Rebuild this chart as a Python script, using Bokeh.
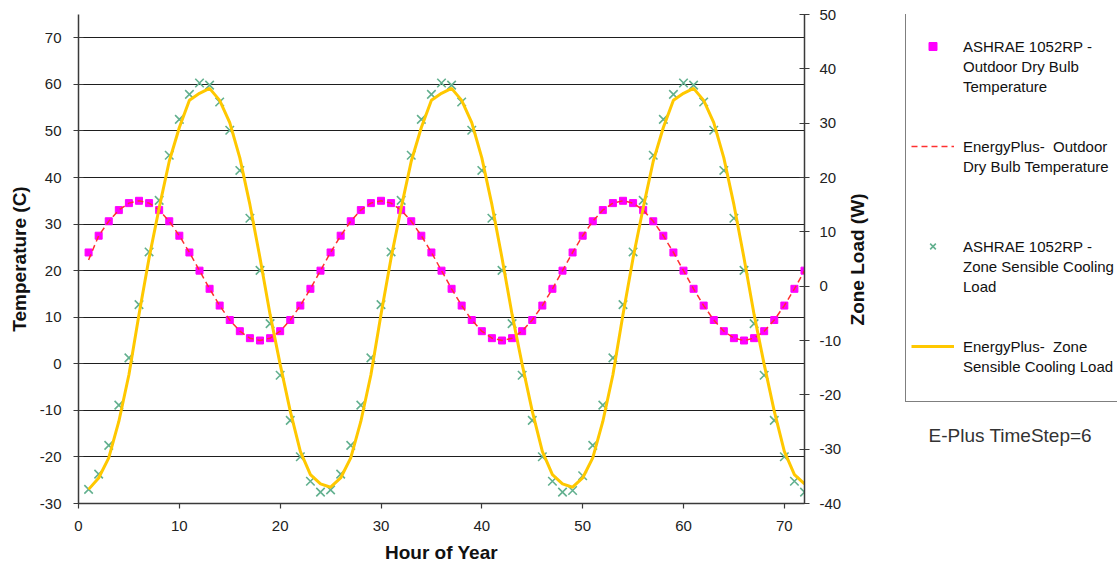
import math
from bokeh.plotting import figure
from bokeh.layouts import row
from bokeh.models import Range1d, LinearAxis, Legend, LegendItem, Label, FixedTicker
from bokeh.embed import file_html
from bokeh.resources import INLINE

# ---------------- data ----------------
hours = list(range(1, 73))

ashrae_temp = [
    23.9, 27.5, 30.6, 33.0, 34.5, 35.0, 34.5, 33.0, 30.6, 27.5, 23.9, 20.0,
    16.1, 12.5, 9.4, 7.0, 5.5, 5.0, 5.5, 7.0, 9.4, 12.5, 16.1, 20.0,
    23.9, 27.5, 30.6, 33.0, 34.5, 35.0, 34.5, 33.0, 30.6, 27.5, 23.9, 20.0,
    16.1, 12.5, 9.4, 7.0, 5.5, 5.0, 5.5, 7.0, 9.4, 12.5, 16.1, 20.0,
    23.9, 27.5, 30.6, 33.0, 34.5, 35.0, 34.5, 33.0, 30.6, 27.5, 23.9, 20.0,
    16.1, 12.5, 9.4, 7.0, 5.5, 5.0, 5.5, 7.0, 9.4, 12.5, 16.1, 20.0,
]

eplus_temp = [
    22.3, 27.5, 30.6, 33.0, 34.5, 35.0, 34.5, 33.0, 30.6, 27.5, 23.9, 20.0,
    16.1, 12.5, 9.4, 7.0, 5.5, 5.0, 5.5, 7.0, 9.4, 12.5, 16.1, 20.0,
    23.9, 27.5, 30.6, 33.0, 34.5, 35.0, 34.5, 33.0, 30.6, 27.5, 23.9, 20.0,
    16.1, 12.5, 9.4, 7.0, 5.5, 5.0, 5.5, 7.0, 9.4, 12.5, 16.1, 20.0,
    23.9, 27.5, 30.6, 33.0, 34.5, 35.0, 34.5, 33.0, 30.6, 27.5, 23.9, 20.0,
    16.1, 12.5, 9.4, 7.0, 5.5, 5.0, 5.5, 7.0, 9.4, 12.5, 16.1, 20.0,
]

ashrae_load = [
    -37.4, -34.6, -29.3, -21.9, -13.2, -3.4, 6.3, 15.8, 24.1, 30.7, 35.3, 37.4,
    37.0, 33.9, 28.7, 21.3, 12.5, 2.9, -6.9, -16.4, -24.7, -31.4, -35.9, -37.9,
    -37.5, -34.6, -29.3, -21.9, -13.2, -3.4, 6.3, 15.8, 24.1, 30.7, 35.3, 37.4,
    37.0, 33.9, 28.7, 21.3, 12.5, 2.9, -6.9, -16.4, -24.7, -31.4, -35.9, -37.9,
    -37.6, -34.9, -29.3, -21.9, -13.2, -3.4, 6.3, 15.8, 24.1, 30.7, 35.3, 37.4,
    37.0, 33.9, 28.7, 21.3, 12.5, 2.9, -6.9, -16.4, -24.7, -31.4, -35.9, -37.9,
]

eplus_load = [
    -37.4, -35.3, -31.6, -24.9, -16.3, -5.2, 5.2, 14.4, 23.0, 29.2, 34.2, 35.5,
    36.4, 34.2, 30.1, 23.6, 15.0, 5.2, -5.2, -14.4, -23.0, -30.4, -34.7, -36.4,
    -37.0, -35.3, -31.6, -24.9, -16.3, -5.2, 5.2, 14.4, 23.0, 29.2, 34.2, 35.5,
    36.4, 34.2, 30.1, 23.6, 15.0, 5.2, -5.2, -14.4, -23.0, -30.4, -34.7, -36.4,
    -37.0, -35.3, -31.6, -24.9, -16.3, -5.2, 5.2, 14.4, 23.0, 29.2, 34.2, 35.5,
    36.4, 34.2, 30.1, 23.6, 15.0, 5.2, -5.2, -14.4, -23.0, -30.4, -34.7, -36.4,
]

x_ticks = [0, 10, 20, 30, 40, 50, 60, 70]
temp_ticks = [-30, -20, -10, 0, 10, 20, 30, 40, 50, 60, 70]
temp_labels = ["-30", "-20", "-10", "0", "10", "20", "30", "40", "50", "60", "70"]
load_ticks = [-40, -30, -20, -10, 0, 10, 20, 30, 40, 50]
load_labels = ["-40", "-30", "-20", "-10", "0", "10", "20", "30", "40", "50"]

# legend text, one list of lines per series
series_names = [
    ["ASHRAE 1052RP -", "Outdoor Dry Bulb", "Temperature"],
    ["EnergyPlus-  Outdoor", "Dry Bulb Temperature"],
    ["ASHRAE 1052RP -", "Zone Sensible Cooling", "Load"],
    ["EnergyPlus-  Zone", "Sensible Cooling Load"],
]

FONT = "Liberation Sans"
TOTAL_W, TOTAL_H = 1117, 565
MAIN_W = 844
FRAME_TOP, FRAME_BOTTOM = 14, 503   # frame edges shared by both panels (row aligns them)

# styles
sq_style = dict(marker="square", size=7, fill_color="#FF00FF", line_color="#FF00FF")
dash_style = dict(line_color="#FF3030", line_dash="6 4", line_width=1.5)
x_style = dict(marker="x", size=12, line_color="#62B08F", line_width=1.6)
gold_style = dict(line_color="#FFC800", line_width=3)

# ---------------- main chart ----------------
p = figure(width=MAIN_W, height=TOTAL_H, x_range=Range1d(0, 72), y_range=Range1d(-30, 75),
           output_backend="svg", toolbar_location=None, title=None,
           min_border_left=78, min_border_right=40, min_border_top=FRAME_TOP,
           min_border_bottom=TOTAL_H - FRAME_BOTTOM,
           background_fill_color="white", border_fill_color="white",
           outline_line_color=None)
p.extra_y_ranges = {"load": Range1d(-40, 50)}

p.scatter(hours, ashrae_temp, **sq_style)
p.line(hours, eplus_temp, **dash_style)
p.scatter(hours, ashrae_load, y_range_name="load", **x_style)
p.line(hours, eplus_load, y_range_name="load", **gold_style)

xa = p.xaxis[0]
xa.ticker = FixedTicker(ticks=x_ticks)
xa.axis_label = "Hour of Year"
xa.major_tick_in = 0
xa.major_tick_out = 5
xa.major_label_standoff = 12
xa.axis_label_standoff = 8

ya = p.yaxis[0]
ya.ticker = FixedTicker(ticks=temp_ticks)
ya.major_label_overrides = dict(zip(temp_ticks, temp_labels))
ya.axis_label = "Temperature (C)"
ya.major_tick_in = 5
ya.major_tick_out = 5
ya.major_label_standoff = 12
ya.axis_label_standoff = 7

ra = LinearAxis(y_range_name="load", ticker=FixedTicker(ticks=load_ticks))
ra.major_label_overrides = dict(zip(load_ticks, load_labels))
ra.major_tick_in = 5
ra.major_tick_out = 5
ra.major_label_standoff = 10
p.add_layout(ra, "right")

for ax in (xa, ya, ra):
    ax.axis_line_color = "#3a3a3a"
    ax.axis_line_width = 1.5
    ax.major_tick_line_color = "#3a3a3a"
    ax.major_tick_line_width = 1.2
    ax.minor_tick_line_color = None
    ax.major_label_text_font = FONT
    ax.major_label_text_font_size = "15px"
    ax.major_label_text_color = "#222222"
    ax.axis_label_text_font = FONT
    ax.axis_label_text_font_size = "19px"
    ax.axis_label_text_font_style = "bold"
    ax.axis_label_text_color = "#111111"

p.xgrid.visible = False
p.ygrid.ticker = FixedTicker(ticks=temp_ticks)
p.ygrid.grid_line_color = "#1e1e1e"
p.ygrid.grid_line_width = 1

# ---------------- side panel: right-axis title, legend, note ----------------
# its frame is aligned with the main frame, so data units here equal page pixels
side_w = TOTAL_W - MAIN_W
q = figure(width=side_w, height=TOTAL_H,
           x_range=Range1d(MAIN_W, TOTAL_W), y_range=Range1d(FRAME_BOTTOM, FRAME_TOP),
           output_backend="svg", toolbar_location=None, title=None,
           x_axis_location=None, y_axis_location=None, min_border=0,
           min_border_top=FRAME_TOP, min_border_bottom=TOTAL_H - FRAME_BOTTOM,
           background_fill_color="white", border_fill_color="white",
           outline_line_color=None)
q.xgrid.visible = False
q.ygrid.visible = False
q.extra_x_ranges = {"off": Range1d(-1000, -900)}
q.extra_y_ranges = {"temp": Range1d(-30, 75), "load": Range1d(-40, 50)}

# legend proxies: same series, mapped off-canvas so only their legend glyphs show
g1 = q.scatter(hours, ashrae_temp, x_range_name="off", y_range_name="temp", **sq_style)
g2 = q.line(hours, eplus_temp, x_range_name="off", y_range_name="temp", **dash_style)
g3 = q.scatter(hours, ashrae_load, x_range_name="off", y_range_name="load", **x_style)
g4 = q.line(hours, eplus_load, x_range_name="off", y_range_name="load", **gold_style)

q.add_layout(Label(x=857, y=259, text="Zone Load (W)", angle=math.pi / 2,
                   text_align="center", text_baseline="middle",
                   text_font=FONT, text_font_size="19px", text_font_style="bold",
                   text_color="#111111"))

# one legend row per text line; glyph on the first line of each series,
# empty rows give the gaps between the series
gaps_after = [2, 3, 2, 1]
items = [LegendItem(label="", renderers=[])]
for lines, r, gap in zip(series_names, [g1, g2, g3, g4], gaps_after):
    items.append(LegendItem(label=lines[0], renderers=[r]))
    for ln in lines[1:]:
        items.append(LegendItem(label=ln, renderers=[]))
    for _ in range(gap):
        items.append(LegendItem(label="", renderers=[]))

ROW_H = 20
PAD = 5
legend_h = 2 * PAD + ROW_H * len(items)
legend = Legend(items=items, location=(905 - MAIN_W, FRAME_BOTTOM - (12 + legend_h)))
legend.border_line_color = "black"
legend.border_line_width = 1
legend.background_fill_color = "white"
legend.background_fill_alpha = 1
legend.padding = PAD
legend.spacing = 0
legend.margin = 0
legend.glyph_width = 43
legend.glyph_height = ROW_H
legend.label_height = ROW_H
legend.label_standoff = 9
legend.label_text_font = FONT
legend.label_text_font_size = "15px"
legend.label_text_line_height = 1.2
legend.label_text_color = "#111111"
q.add_layout(legend)

q.add_layout(Label(x=928, y=435, text="E-Plus TimeStep=6", text_baseline="middle",
                   text_font=FONT, text_font_size="19px", text_color="#333333"))

layout = row(p, q, spacing=0)
open("out.html", "w").write(file_html(layout, INLINE))
